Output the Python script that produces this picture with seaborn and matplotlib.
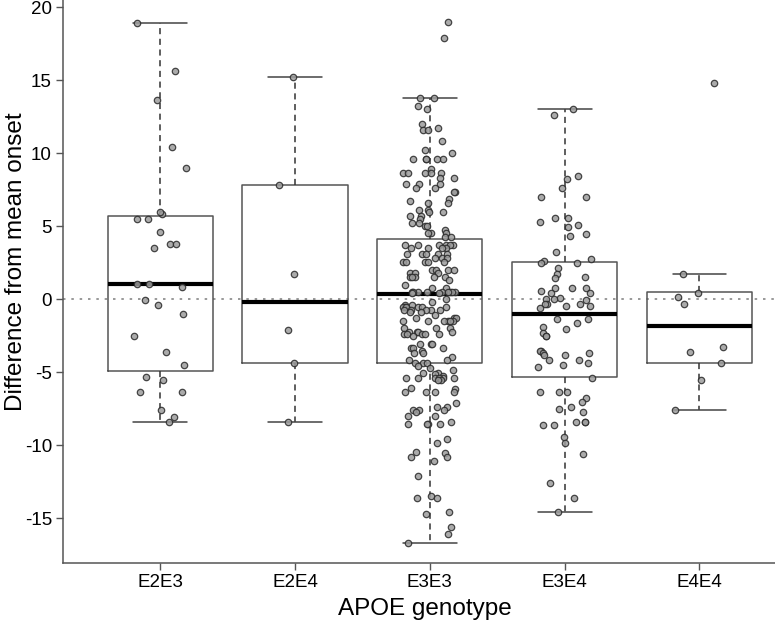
import numpy as np
import pandas as pd
from matplotlib import pyplot as plt
import seaborn as sns

# genotype groups, in the order they are drawn
genotypes = ["E2E3", "E2E4", "E3E3", "E3E4", "E4E4"]

# difference from mean onset
e2e3 = [18.9, 15.6, 13.6, 10.4, 8.95, 5.8, 5.96, 5.5, 5.5, 4.57, 3.8, 3.8, 3.5,
        1.0, 1.0, 0.8, -0.07, -0.41, -1.05, -2.5, -3.6, -4.5, -5.37, -5.55,
        -6.37, -6.4, -7.6, -8.06, -8.4]
e2e4 = [15.2, 7.8, 1.7, -2.1, -4.4, -8.4]
e3e3 = [19.0, 17.85, 13.8, 13.8, 13.2, 13.0, 11.96, 11.7, 11.6, 11.6, 10.8, 10.2, 10.0,
        9.6, 9.6, 9.6, 9.6, 9.6, 8.9, 8.6, 8.6, 8.6, 8.6, 8.6, 8.3, 8.3,
        7.9, 7.9, 7.9, 7.6, 7.6, 7.3, 7.3, 6.85, 6.55, 6.55, 6.7, 6.1, 6.1,
        5.96, 5.96, 5.7, 5.7, 5.5, 5.2, 5.2, 5.0, 5.0, 4.7, 4.5, 4.5, 4.5,
        4.27, 4.27, 3.7, 3.7, 3.7, 3.7, 3.7, 3.7, 3.5, 3.5, 3.5, 3.5,
        3.1, 3.1, 3.1, 3.1, 3.1, 2.8, 2.8, 2.8, 2.55, 2.55, 2.55, 2.55, 2.55,
        2.0, 2.0, 2.0, 2.0, 1.76, 1.76, 1.76, 1.5, 1.5, 1.5, 1.5, 1.5,
        1.3, 0.96, 0.73, 0.73, 0.5, 0.5, 0.5, 0.5, 0.5, 0.5, 0.5, 0.5, 0.5,
        0.39, 0.39, 0.0, -0.18, -0.41, -0.41, -0.53, -0.53, -0.53, -0.53, -0.53, -0.53,
        -0.75, -0.75, -0.75, -0.75, -0.75, -0.87, -0.87, -1.1, -1.3, -1.3, -1.3,
        -1.53, -1.53, -1.53, -1.53, -1.53, -1.53, -2.0, -2.0, -2.0,
        -2.24, -2.24, -2.24, -2.24, -2.4, -2.4, -2.4, -2.4, -2.4, -2.5,
        -3.1, -3.1, -3.1, -3.38, -3.38, -3.38, -3.54, -3.67, -3.67, -4.0,
        -4.18, -4.18, -4.4, -4.4, -4.4, -4.6, -4.75, -4.86, -5.05, -5.05, -5.1,
        -5.27, -5.4, -5.4, -5.4, -5.4, -5.4, -5.4, -5.55, -5.55, -6.07, -6.16,
        -6.4, -6.4, -6.4, -6.4, -7.1, -7.37, -7.37, -7.6, -7.6, -7.6, -7.76,
        -8.0, -8.0, -8.4, -8.56, -8.56, -8.56, -8.56, -9.6, -9.84, -10.46, -10.57,
        -10.84, -10.84, -11.07, -12.1, -13.5, -13.6, -13.6, -14.6, -14.7,
        -15.6, -16.1, -16.7]
e3e4 = [13.0, 12.6, 8.4, 8.2, 7.58, 7.0, 7.0, 5.57, 5.57, 5.3, 5.1, 4.9, 4.43, 4.3,
        3.2, 2.74, 2.6, 2.5, 2.5, 2.14, 1.7, 1.5, 1.44, 0.73, 0.73, 0.73, 0.57,
        0.4, 0.4, 0.05, 0.0, 0.0, -0.1, -0.34, -0.34, -0.34, -0.48, -0.48, -0.6,
        -1.39, -1.39, -1.67, -2.03, -1.9, -2.35, -2.5, -2.5, -3.56, -3.56,
        -3.67, -3.67, -3.8, -3.8, -4.2, -4.2, -4.4, -4.5, -4.64, -5.4,
        -6.37, -6.4, -6.4, -6.76, -7.08, -7.42, -7.5, -7.74, -8.4, -8.4, -8.4,
        -8.6, -8.6, -9.43, -9.84, -10.6, -12.6, -13.6, -14.6]
e4e4 = [14.8, 1.7, 0.43, 0.16, -0.34, -3.3, -3.6, -4.4, -5.55, -7.6]

# box statistics (whisker ends, hinges, median) as drawn in the reference
whisker_low = [-8.4, -8.4, -16.7, -14.6, -7.6]
hinge_low = [-4.95, -4.4, -4.4, -5.35, -4.35]
medians = [1.0, -0.2, 0.35, -1.05, -1.85]
hinge_high = [5.7, 7.8, 4.1, 2.55, 0.45]
whisker_high = [18.9, 15.2, 13.8, 13.0, 1.7]

groups = [e2e3, e2e4, e3e3, e3e4, e4e4]
df = pd.DataFrame({
    "genotype": np.repeat(genotypes, [len(g) for g in groups]),
    "diff": np.concatenate(groups),
})

sns.set_style("ticks")
plt.rcParams["font.family"] = ["Liberation Sans", "DejaVu Sans"]
plt.rcParams["axes.unicode_minus"] = False

fig = plt.figure(figsize=(7.75, 6.26), dpi=100)
ax = fig.add_axes([0.0813, 0.1006, 0.9187, 0.8994])

# reference line at zero
ax.axhline(0, color="#888888", lw=1.2, ls=(0, (1.5, 3.5)), zorder=1)

stats = []
for i in range(len(genotypes)):
    stats.append({
        "whislo": whisker_low[i], "q1": hinge_low[i], "med": medians[i],
        "q3": hinge_high[i], "whishi": whisker_high[i], "fliers": [],
    })
ax.bxp(stats, positions=range(len(genotypes)), widths=0.78, capwidths=0.4,
       showfliers=False, patch_artist=False,
       boxprops=dict(color="#555555", lw=1.1),
       whiskerprops=dict(color="#333333", lw=1.1, ls=(0, (4, 3))),
       capprops=dict(color="#444444", lw=1.1),
       medianprops=dict(color="black", lw=3, solid_capstyle="butt"),
       zorder=2)

np.random.seed(7)
sns.stripplot(data=df, x="genotype", y="diff", order=genotypes, jitter=0.2,
              color="#9c9c9c", edgecolor="#2a2a2a", linewidth=0.9, size=4.6,
              alpha=0.85, ax=ax, zorder=3)

ax.set_xlim(-0.72, 4.56)
ax.set_ylim(-18.08, 20.48)
ax.set_yticks(range(-15, 21, 5))
ax.set_xticks(range(len(genotypes)))
ax.set_xticklabels(genotypes)
ax.tick_params(labelsize=13.5, length=5, color="#555555", width=1,
               labelcolor="black", pad=3)
ax.set_xlabel("APOE genotype", fontsize=17.5, color="black")
ax.set_ylabel("Difference from mean onset", fontsize=17.5, color="black")
ax.xaxis.set_label_coords(0.508, -0.062)
ax.yaxis.set_label_coords(-0.05, 0.535)
for s in ["top", "right"]:
    ax.spines[s].set_visible(False)
for s in ["left", "bottom"]:
    ax.spines[s].set_color("#555555")
    ax.spines[s].set_linewidth(1.1)

fig.savefig("out.png", dpi=100)
